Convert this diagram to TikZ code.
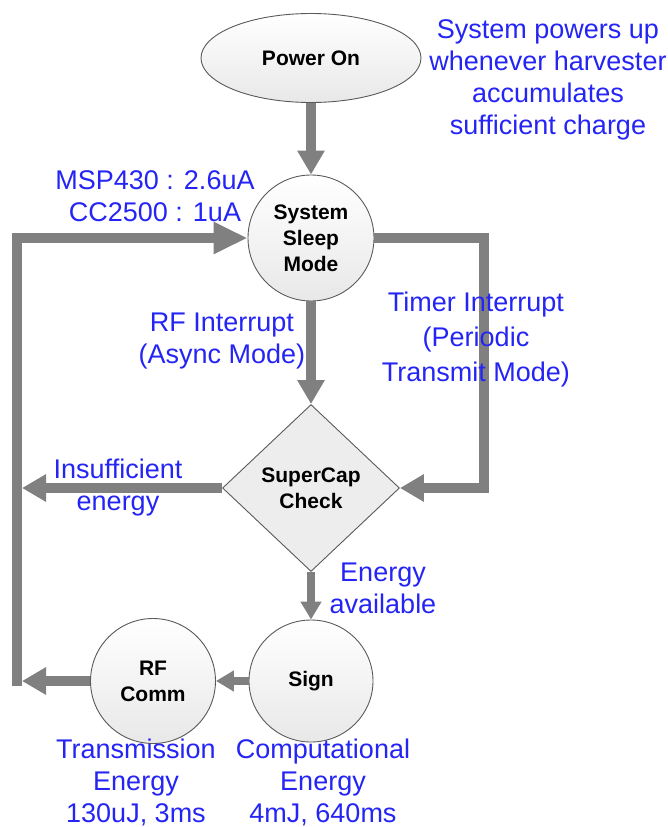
\documentclass[tikz,border=0pt]{standalone}
\usepackage{fontspec}
\setmainfont{Liberation Sans}
\usepackage{xcolor}
\usepackage{tikz}
\usetikzlibrary{shapes.geometric, arrows.meta, positioning, calc}
\definecolor{flowgray}{HTML}{808080}
\definecolor{edgegray}{HTML}{5A5A5A}
\definecolor{noteblue}{HTML}{2424F5}
\definecolor{checkfill}{HTML}{EDEDED}

\begin{document}
\begin{tikzpicture}[
    x=1pt, y=-1pt,
    statenode/.style={
        circle, inner sep=0pt, minimum size=#1,
        draw=edgegray, line width=0.9pt,
        top color=white, bottom color=black!9,
        align=center, font=\fontsize{21}{26}\selectfont\bfseries
    },
    oval/.style={
        ellipse, inner sep=0pt, draw=edgegray, line width=0.9pt,
        top color=white, bottom color=black!9,
        align=center, font=\fontsize{21}{26}\selectfont\bfseries
    },
    decision/.style={
        diamond, inner sep=0pt, minimum width=177pt, minimum height=167pt,
        draw=edgegray, line width=0.9pt, fill=checkfill,
        align=center, font=\fontsize{21}{26}\selectfont\bfseries
    },
    note/.style={
        text=noteblue, align=center, inner sep=0pt,
        font=\fontsize{27}{32}\selectfont
    },
    flow/.style={draw=flowgray, line width=10pt, -{Triangle[length=24pt,width=26pt]}},
    flowsmall/.style={draw=flowgray, line width=8pt, -{Triangle[length=18pt,width=20pt]}}
]
\useasboundingbox (0,0) rectangle (668,827);

% states
\node[oval, minimum width=220pt, minimum height=89pt] (power) at (311,58) {Power On};
\node[statenode=126pt] (sleep) at (311,238) {System\\Sleep\\Mode};
\node[decision] (check) at (311,488) {SuperCap\\Check};
\node[oval, minimum width=124pt, minimum height=122pt] (sign) at (311,681) {Sign};
\node[statenode=125pt] (rfcomm) at (153,681) {RF\\Comm};

\coordinate (lb) at (17,686);

% connectors
\draw[flow] (power) -- (sleep);
\draw[flow] (sleep) -- (check);
\draw[flow] (sleep.east) -- ++(110,0) |- (check.east);
\draw[flowsmall] (check) -- (sign);
\draw[flowsmall] (sign) -- (rfcomm);
\draw[flow, -{Triangle[length=34pt,width=30pt]}] (lb) |- (sleep.west);
\draw[flow, shorten >=5pt] (check.west) -- (check.west -| lb);
\draw[flow, shorten >=5pt] (rfcomm.west) -- (rfcomm.west -| lb);

% notes
\node[note] (powernote) at (548,80) {System powers up\\whenever harvester\\accumulates\\sufficient charge};
\node[note] (sleepnote) at (155,196) {MSP430 : 2.6uA\\CC2500 : 1uA};
\node[note] (rfnote) at (222,341) {RF Interrupt\\(Async Mode)};
\node[note, font=\fontsize{27}{35}\selectfont] (timernote) at (476,340) {Timer Interrupt\\(Periodic\\Transmit Mode)};
\node[note] (lownote) at (118,488) {Insufficient\\energy};
\node[note] (oknote) at (383,588) {Energy\\available};
\node[note] (txnote) at (136,782) {Transmission\\Energy\\130uJ, 3ms};
\node[note] (compnote) at (323,782) {Computational\\Energy\\4mJ, 640ms};

\end{tikzpicture}
\end{document}
